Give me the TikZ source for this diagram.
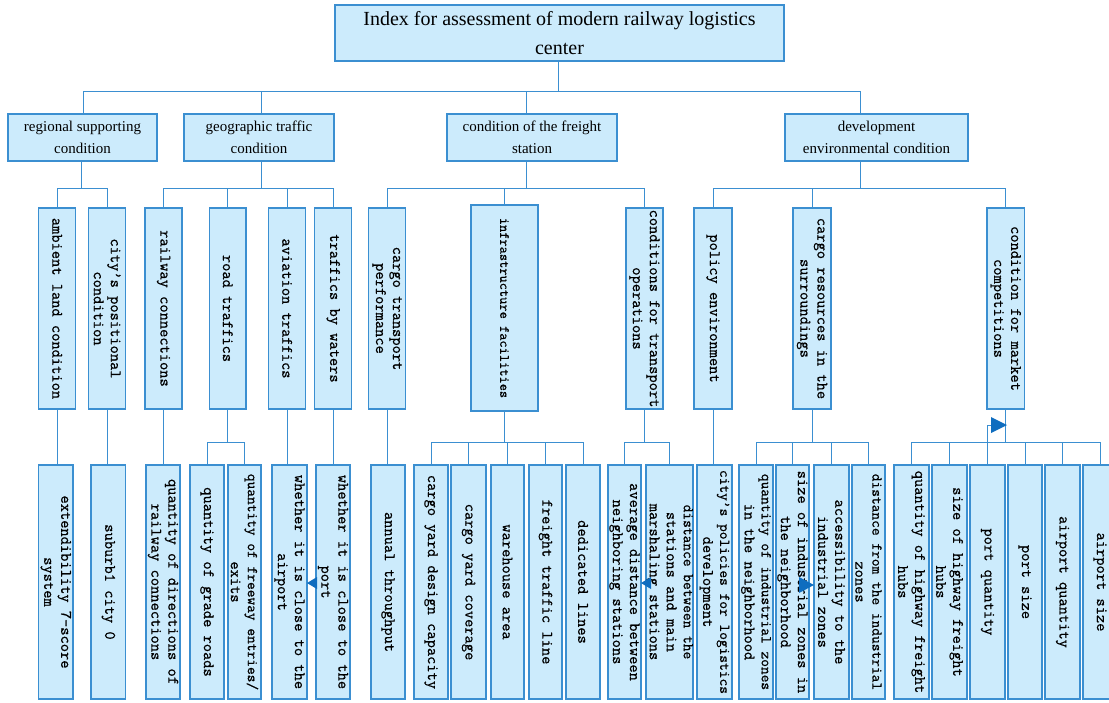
\documentclass[tikz,border=0pt]{standalone}
\usepackage{fontspec}
\setmainfont{Liberation Serif}
\newfontfamily\vtf{Latin Modern Mono}[FakeBold=0.7]
\usetikzlibrary{arrows.meta}
\definecolor{bfill}{HTML}{CCEBFC}
\definecolor{bline}{HTML}{3B8FD1}
\definecolor{afill}{HTML}{0F6DBF}
\tikzset{
  bx/.style={draw=bline, fill=bfill, line width=1.2pt, inner sep=0pt},
  vt/.style={rotate=-90, align=center, font=\vtf\fontsize{16}{17}\selectfont, inner sep=0pt},
  ht/.style={align=center, font=\fontsize{15}{22}\selectfont},
  cn/.style={draw=bline, line width=1pt},
  tri/.style={fill=afill, draw=none},
}
\newcommand\mkbox[6]{%
  \node[bx, minimum width={(#3)-(#2)}, minimum height={(#5)-(#4)}] (#1) at ({((#2)+(#3))/2},{((#4)+(#5))/2}) {};
  \node[vt] (#1t) at (#1.center) {#6};}
\newcommand\mkhbox[6]{%
  \node[bx, ht, minimum width={(#3)-(#2)}, minimum height={(#5)-(#4)}] (#1) at ({((#2)+(#3))/2},{((#4)+(#5))/2}) {#6};}
\begin{document}
\begin{tikzpicture}[x=1pt,y=-1pt]
\useasboundingbox (0,0) rectangle (1109,702);
% top
\node[bx, align=center, font=\fontsize{20}{29}\selectfont, minimum width=449, minimum height=56] (top) at (559.5,33) {Index for assessment of modern railway logistics\\center};
% level 1
\mkhbox{lA}{8}{157}{114}{161}{regional supporting\\condition}
\mkhbox{lB}{184}{334}{114}{161}{geographic traffic\\condition}
\mkhbox{lC}{447}{617}{114}{161}{condition of the freight\\station}
\mkhbox{lD}{785}{968}{114}{161}{development\\environmental condition}
% level 2
\mkbox{amb}{38.6}{75.7}{208}{409}{ambient land condition}
\mkbox{city}{88.6}{125.7}{208}{409}{city’s positional\\condition}
\mkbox{rail}{145}{182}{208}{409}{railway connections}
\mkbox{road}{209.6}{246}{208}{409}{road traffics}
\mkbox{avi}{268.6}{305.7}{208}{409}{aviation traffics}
\mkbox{wat}{314.6}{351.8}{208}{409}{traffics by waters}
\mkbox{cargo}{368.6}{405.7}{208}{409}{cargo transport\\performance}
\mkbox{infra}{471}{538}{205}{411}{\fontsize{14}{16}\selectfont infrastructure facilities}
\mkbox{ops}{626}{663}{208}{409}{conditions for transport\\operations}
\mkbox{pol}{694}{732}{208}{409}{policy environment}
\mkbox{res}{793}{831}{208}{409}{cargo resources in the\\surroundings}
\mkbox{mkt}{987}{1024.5}{208}{409}{condition for market\\competitions}
% level 3
\mkbox{ext}{38.7}{73}{465}{699}{extendibility 7-score\\system}
\mkbox{sub}{91}{125.7}{465}{699}{suburb1 city 0}
\mkbox{qdir}{146}{180}{465}{699}{quantity of directions of\\railway connections}
\mkbox{grade}{190}{224}{465}{699}{quantity of grade roads}
\mkbox{free}{228}{261}{465}{699}{\fontsize{15}{17}\selectfont quantity of freeway entries/\\exits}
\mkbox{air}{272}{307}{465}{699}{whether it is close to the\\airport}
\mkbox{port}{316}{350}{465}{699}{whether it is close to the\\port}
\mkbox{ann}{371}{405}{465}{699}{annual throughput}
\mkbox{cap}{414}{448}{465}{699}{cargo yard design capacity}
\mkbox{cov}{451}{486}{465}{699}{cargo yard coverage}
\mkbox{ware}{491}{524}{465}{699}{warehouse area}
\mkbox{ftl}{529}{562}{465}{699}{freight traffic line}
\mkbox{ded}{566}{600}{465}{699}{dedicated lines}
\mkbox{avg}{608}{641}{465}{699}{average distance between\\neighboring stations}
\mkbox{dist}{646}{693}{465}{699}{\fontsize{15}{14}\selectfont distance between the\\stations and main\\marshaling stations}
\mkbox{cpol}{697}{732}{465}{699}{\fontsize{15}{17}\selectfont city’s policies for logistics\\development}
\mkbox{qiz}{739}{773}{465}{699}{\fontsize{15}{17}\selectfont quantity of industrial zones\\in the neighborhood}
\mkbox{siz}{776}{809}{465}{699}{size of industrial zones in\\the neighborhood}
\mkbox{acc}{814}{849}{465}{699}{accessibility to the\\industrial zones}
\mkbox{dfi}{852}{885}{465}{699}{\fontsize{15}{17}\selectfont distance from the industrial\\zones}
\mkbox{qhh}{894}{929}{465}{699}{quantity of highway freight\\hubs}
\mkbox{shh}{932}{967}{465}{699}{size of highway freight\\hubs}
\mkbox{pq}{970}{1005}{465}{699}{port quantity}
\mkbox{ps}{1008}{1042}{465}{699}{port size}
\mkbox{aq}{1045}{1080}{465}{699}{airport quantity}
\mkbox{asz}{1083}{1117}{465}{699}{airport size}
% connectors level 0 -> 1
\coordinate (j0) at (558,91);
\coordinate (jA0) at (83,91);
\coordinate (jB0) at (261,91);
\coordinate (jC0) at (526,91);
\coordinate (jD0) at (860,91);
\draw[cn] (top.south -| j0) -- (j0);
\draw[cn] (jA0) -- (jD0);
\draw[cn] (jA0) -- (jA0 |- lA.north);
\draw[cn] (jB0) -- (jB0 |- lB.north);
\draw[cn] (jC0) -- (jC0 |- lC.north);
\draw[cn] (jD0) -- (jD0 |- lD.north);
% level 1 -> 2
\coordinate (jA1) at (81,188);
\coordinate (jB1) at (261,188);
\coordinate (jC1) at (526,188);
\coordinate (jD1) at (860,188);
\draw[cn] (jA1 |- lA.south) -- (jA1);
\draw[cn] (amb.north) |- (city.north |- jA1) -- (city.north);
\draw[cn] (jB1 |- lB.south) -- (jB1);
\draw[cn] (rail.north) |- (wat.north |- jB1) -- (wat.north);
\draw[cn] (road.north) -- (road.north |- jB1);
\draw[cn] (avi.north) -- (avi.north |- jB1);
\draw[cn] (jC1 |- lC.south) -- (jC1);
\draw[cn] (cargo.north) |- (ops.north |- jC1) -- (ops.north);
\draw[cn] (infra.north) -- (infra.north |- jC1);
\draw[cn] (jD1 |- lD.south) -- (jD1);
\draw[cn] (pol.north) |- (mkt.north |- jD1) -- (mkt.north);
\draw[cn] (res.north) -- (res.north |- jD1);
% level 2 -> 3
\coordinate (y3) at (0,442);
\draw[cn] (amb.south) -- (amb.south |- ext.north);
\draw[cn] (city.south) -- (city.south |- sub.north);
\draw[cn] (rail.south) -- (rail.south |- qdir.north);
\draw[cn] (avi.south) -- (avi.south |- air.north);
\draw[cn] (wat.south) -- (wat.south |- port.north);
\draw[cn] (cargo.south) -- (cargo.south |- ann.north);
\draw[cn] (pol.south) -- (pol.south |- cpol.north);
\draw[cn] (road.south) -- (road.south |- y3);
\draw[cn] (grade.north) |- (free.north |- y3) -- (free.north);
\draw[cn] (infra.south) -- (infra.south |- y3);
\draw[cn] (cap.north) |- (ded.north |- y3) -- (ded.north);
\draw[cn] (cov.north) -- (cov.north |- y3);
\draw[cn] (ware.north) -- (ware.north |- y3);
\draw[cn] (ftl.north) -- (ftl.north |- y3);
\draw[cn] (ops.south) -- (ops.south |- y3);
\draw[cn] (avg.north) |- (dist.north |- y3) -- (dist.north);
\draw[cn] (res.south) -- (res.south |- y3);
\draw[cn] (qiz.north) |- (dfi.north |- y3) -- (dfi.north);
\draw[cn] (siz.north) -- (siz.north |- y3);
\draw[cn] (acc.north) -- (acc.north |- y3);
\draw[cn] (mkt.south) -- (mkt.south |- y3);
\draw[cn] (qhh.north) |- (asz.north |- y3) -- (asz.north);
\draw[cn] (shh.north) -- (shh.north |- y3);
\draw[cn] (ps.north) -- (ps.north |- y3);
\draw[cn] (aq.north) -- (aq.north |- y3);
\coordinate (pa) at (0,425);
\draw[cn] (pq.north) -- (pq.north |- pa) -- ++(4,0);
\fill[tri] (991,417) -- (1007,425) -- (991,433) -- cycle;
% stray arrowheads
\fill[tri] (307,583) -- (317,577) -- (317,589) -- cycle;
\fill[tri] (641,583) -- (651,577) -- (651,589) -- cycle;
\fill[tri] (814,585) -- (799,577) -- (799,593) -- cycle;
\end{tikzpicture}
\end{document}
